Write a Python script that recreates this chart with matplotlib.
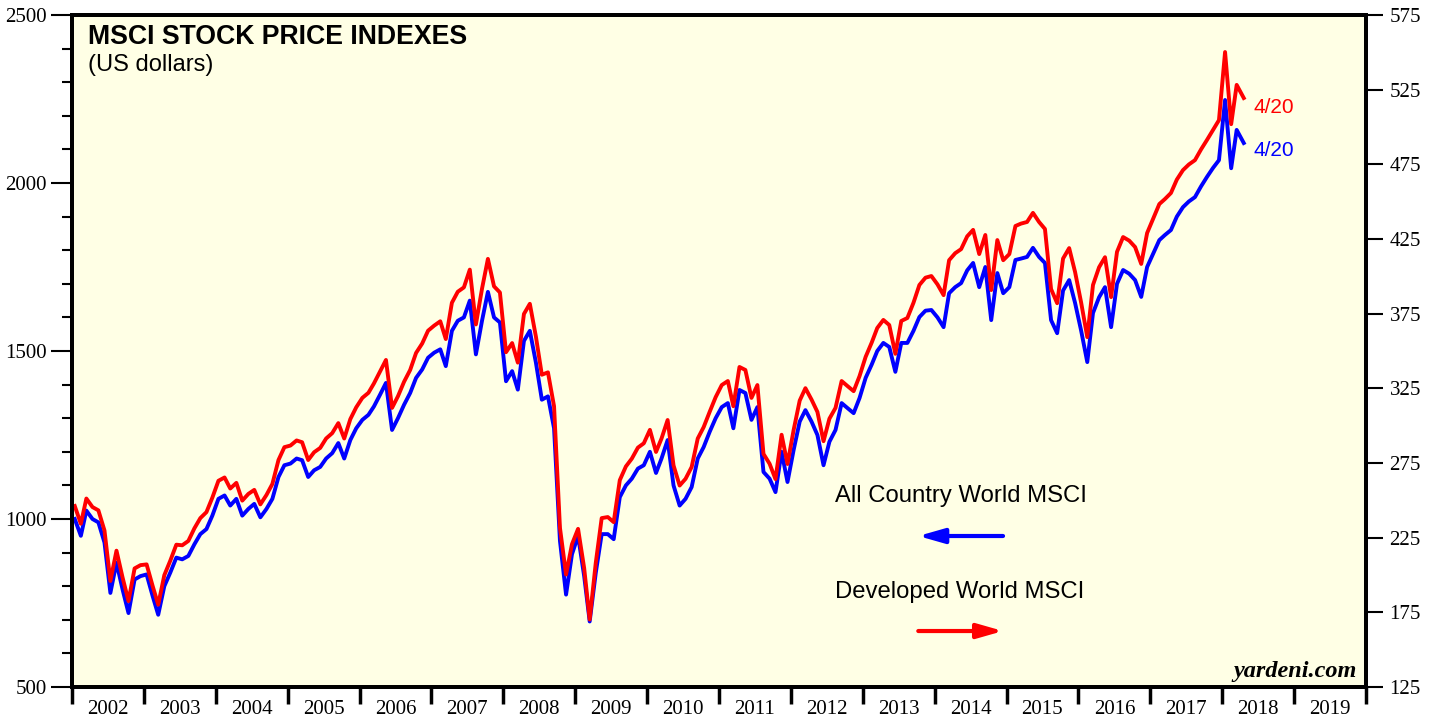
"""
MSCI stock price indexes (US dollars), monthly readings 2002 - Apr 2018.
Blue on the left scale, red on the right scale.
"""

import numpy as np
import pandas as pd
import matplotlib
matplotlib.use("Agg")
import matplotlib.pyplot as plt
import matplotlib.dates as mdates
from matplotlib.ticker import FixedLocator, NullFormatter

# monthly readings, Jan 2002 .. Apr 2018 (last point is 4/20)
acwi = [
    1000, 950, 1025, 1000, 990, 930, 780, 870, 790, 720, 820, 830,      # 2002
    835, 770, 715, 800, 840, 885, 880, 890, 925, 955, 970, 1010,        # 2003
    1060, 1070, 1040, 1060, 1010, 1030, 1045, 1005, 1030, 1060, 1125, 1160,  # 2004
    1165, 1180, 1175, 1125, 1145, 1155, 1180, 1196, 1226, 1180, 1235, 1270,  # 2005
    1295, 1310, 1335, 1370, 1405, 1265, 1300, 1340, 1375, 1420, 1445, 1480,  # 2006
    1495, 1505, 1455, 1560, 1590, 1600, 1650, 1490, 1590, 1676, 1600, 1585,  # 2007
    1410, 1440, 1385, 1530, 1560, 1465, 1355, 1365, 1270, 935, 775, 895,     # 2008
    950, 830, 695, 840, 955, 955, 940, 1065, 1100, 1120, 1150, 1160,         # 2009
    1200, 1137, 1180, 1235, 1100, 1040, 1060, 1095, 1180, 1214, 1260, 1300,  # 2010
    1333, 1345, 1270, 1384, 1375, 1295, 1333, 1140, 1120, 1080, 1200, 1110,  # 2011
    1205, 1290, 1324, 1290, 1250, 1160, 1230, 1265, 1345, 1330, 1315, 1360,  # 2012
    1420, 1460, 1500, 1524, 1512, 1438, 1524, 1524, 1560, 1601, 1620, 1622,  # 2013
    1600, 1571, 1672, 1690, 1702, 1740, 1762, 1690, 1750, 1592, 1732, 1672,  # 2014
    1690, 1771, 1775, 1780, 1807, 1780, 1762, 1592, 1553, 1680, 1711, 1643,  # 2015
    1560, 1467, 1613, 1660, 1690, 1571, 1700, 1741, 1730, 1711, 1661, 1750,  # 2016
    1790, 1830, 1845, 1860, 1900, 1928, 1945, 1958, 1990, 2018, 2045, 2068,  # 2017
    2247, 2044, 2158, 2119,                                                  # 2018
]

developed = [
    246.2, 234.3, 251.2, 245.5, 243.3, 229.8, 196.0, 216.3, 198.3, 182.5, 204.4, 206.6,
    207.1, 192.5, 180.1, 199.9, 209.5, 220.3, 219.9, 222.8, 231.3, 238.1, 242.1, 251.8,
    263.1, 265.3, 257.9, 261.7, 249.8, 254.3, 257.0, 247.3, 253.6, 261.0, 277.0, 285.6,
    286.7, 290.1, 288.9, 277.0, 282.2, 285.1, 291.4, 295.0, 301.7, 291.4, 304.4, 312.3,
    318.6, 322.0, 328.3, 336.2, 344.0, 311.9, 319.7, 329.4, 337.3, 348.7, 355.0, 363.6,
    367.0, 369.9, 358.0, 382.3, 389.7, 392.6, 404.5, 367.8, 391.7, 411.7, 393.3, 389.2,
    349.2, 355.3, 342.2, 374.8, 381.6, 359.5, 334.1, 335.7, 313.0, 231.6, 200.3, 220.6,
    230.9, 204.6, 170.2, 208.2, 238.1, 238.8, 235.4, 263.5, 272.7, 277.9, 285.3, 288.2,
    297.2, 282.4, 291.4, 303.8, 273.4, 259.9, 264.4, 272.3, 291.4, 299.0, 309.4, 319.1,
    327.2, 329.9, 313.0, 339.3, 337.3, 318.6, 327.2, 281.1, 274.5, 264.2, 293.9, 274.3,
    297.0, 316.8, 325.1, 317.5, 309.2, 289.6, 304.7, 311.9, 329.9, 326.5, 323.1, 333.2,
    346.1, 355.7, 365.4, 370.8, 367.4, 348.1, 370.1, 372.1, 382.3, 394.2, 399.1, 400.2,
    394.6, 387.4, 410.8, 415.5, 418.2, 426.8, 431.1, 414.9, 427.7, 390.8, 424.3, 410.8,
    414.9, 433.7, 435.3, 436.4, 442.5, 436.4, 431.7, 391.5, 382.0, 411.9, 418.9, 402.9,
    382.3, 359.3, 394.2, 406.1, 412.8, 386.1, 416.4, 426.3, 423.9, 419.6, 408.3, 429.0,
    438.7, 448.4, 451.7, 455.8, 464.8, 471.1, 474.9, 477.8, 485.0, 491.3, 498.1, 504.6,
    550.2, 501.9, 528.2, 519.4,
]

dates = pd.date_range("2002-01-01", "2018-04-01", freq="MS") + pd.Timedelta(days=14)
dates = dates[:-1].append(pd.DatetimeIndex(["2018-04-20"]))

years = list(range(2002, 2020))
left_ticks = [500, 1000, 1500, 2000, 2500]
right_ticks = [125, 175, 225, 275, 325, 375, 425, 475, 525, 575]

SANS = "Liberation Sans"
SERIF = "Liberation Serif"
BG = "#ffffe5"


def main():
    fig = plt.figure(figsize=(14.41, 7.21), dpi=100)
    ax = fig.add_axes([72 / 1441, 34 / 721, 1294 / 1441, 672 / 721])
    ax.set_facecolor(BG)

    ax.plot(dates, acwi, color="#0000ff", lw=2.8, solid_joinstyle="round")
    ax.set_ylim(500, 2500)
    ax.set_xlim(pd.Timestamp("2002-01-01"), pd.Timestamp("2020-01-01"))

    ax2 = ax.twinx()
    ax2.plot(dates, developed, color="#ff0000", lw=2.8, solid_joinstyle="round")
    ax2.set_ylim(125, 575)

    # x axis: tick marks at year boundaries, labels centred in each year
    ax.xaxis.set_major_locator(mdates.YearLocator())
    ax.xaxis.set_major_formatter(NullFormatter())
    mids = [mdates.date2num(pd.Timestamp(f"{y}-07-02")) for y in years]
    ax.xaxis.set_minor_locator(FixedLocator(mids))
    ax.xaxis.set_minor_formatter(plt.FixedFormatter([str(y) for y in years]))
    ax.tick_params(axis="x", which="major", direction="out", length=12, width=2.5)
    ax.tick_params(axis="x", which="minor", length=0, pad=9, labelsize=15)

    ax.set_yticks(left_ticks)
    ax.set_yticks(np.arange(500, 2501, 100), minor=True)
    ax.tick_params(axis="y", which="major", direction="out", length=15, width=1.5,
                   pad=3, labelsize=15)
    ax.tick_params(axis="y", which="minor", direction="out", length=7, width=1.5)

    ax2.set_yticks(right_ticks)
    ax2.tick_params(axis="y", which="major", direction="out", length=12, width=1.5,
                    pad=5, labelsize=15)

    for a in (ax, ax2):
        for lab in a.get_xticklabels(minor=True) + a.get_yticklabels():
            lab.set_fontfamily(SERIF)
        for s in a.spines.values():
            s.set_linewidth(2.8)

    ax.text(0.0124, 0.968, "MSCI STOCK PRICE INDEXES", transform=ax.transAxes,
            fontsize=19.2, fontweight="bold", family=SANS, va="center", ha="left")
    ax.text(0.0124, 0.9256, "(US dollars)", transform=ax.transAxes,
            fontsize=17, family=SANS, va="center", ha="left")

    ax.text(0.590, 0.284, "All Country World MSCI", transform=ax.transAxes,
            fontsize=17.2, family=SANS, va="center", ha="left")
    ax.text(0.590, 0.1414, "Developed World MSCI", transform=ax.transAxes,
            fontsize=17.2, family=SANS, va="center", ha="left")

    arrow = dict(arrowstyle="-|>,head_length=0.7,head_width=0.2", lw=3,
                 shrinkA=0, shrinkB=0, mutation_scale=22)
    ax.annotate("", xy=(0.654, 0.2247), xytext=(0.7195, 0.2247),
                xycoords="axes fraction",
                arrowprops=dict(arrow, color="#0000ff"))
    ax.annotate("", xy=(0.7195, 0.0833), xytext=(0.654, 0.0833),
                xycoords="axes fraction",
                arrowprops=dict(arrow, color="#ff0000"))

    ax.text(0.9127, 0.863, "4/20", transform=ax.transAxes, fontsize=15,
            family=SANS, color="#ff0000", va="center", ha="left")
    ax.text(0.9127, 0.799, "4/20", transform=ax.transAxes, fontsize=15,
            family=SANS, color="#0000ff", va="center", ha="left")

    ax.text(0.993, 0.0238, "yardeni.com", transform=ax.transAxes, fontsize=17.5,
            family=SERIF, fontweight="bold", style="italic", va="center", ha="right")

    fig.savefig("out.png", dpi=100, facecolor="white")
    plt.close(fig)


if __name__ == "__main__":
    main()
